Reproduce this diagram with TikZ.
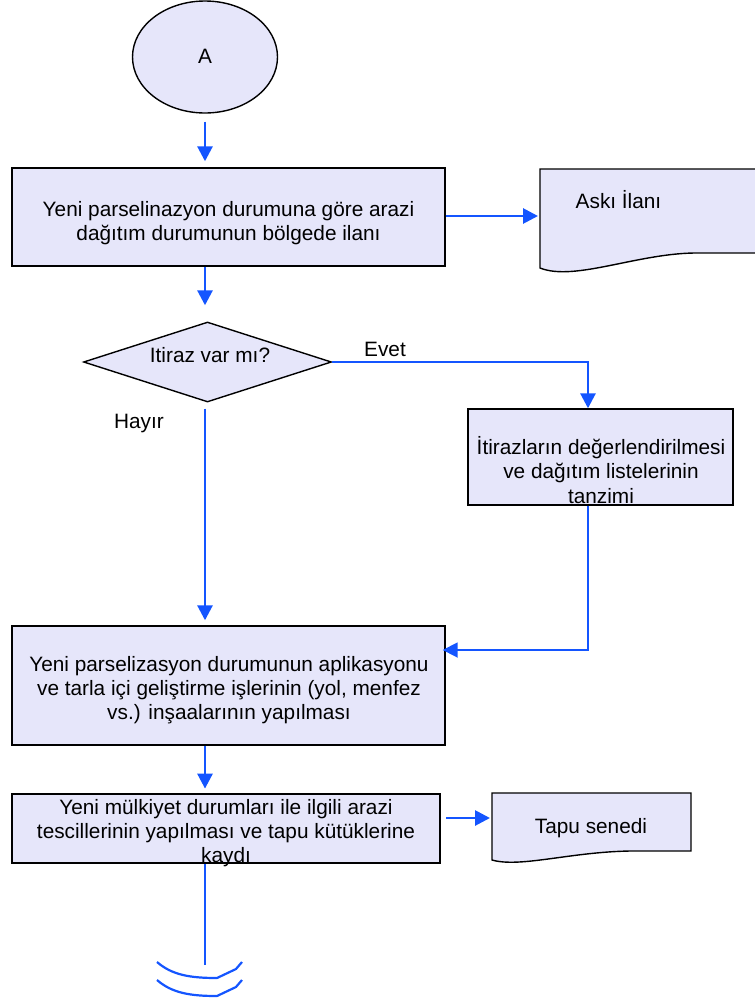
\documentclass[tikz,border=0pt]{standalone}
\usepackage{fontspec}
\setmainfont{Liberation Sans}
\usetikzlibrary{arrows.meta,shapes.geometric}
\definecolor{boxfill}{RGB}{230,230,250}
\definecolor{flowblue}{RGB}{20,85,255}
\begin{document}
\begin{tikzpicture}[x=1pt,y=-1pt,
  box/.style={draw=black, line width=1.4pt, fill=boxfill, rectangle, inner sep=0pt},
  doc/.style={draw=black, line width=1.4pt, fill=boxfill},
  lbl/.style={font=\fontsize{20.8}{24.3}\selectfont, align=center, inner sep=0pt},
  flow/.style={draw=flowblue, line width=2.8pt, -{Triangle[width=15pt,length=15pt]}},
  thinflow/.style={draw=flowblue, line width=1.8pt},
]
\useasboundingbox (0,0) rectangle (755,1002);
\clip (0,0) rectangle (755,1002);

% start terminal
\node[box, ellipse, minimum width=145pt, minimum height=112pt] (A) at (205,57) {};
\node[lbl, anchor=base] (tA) at (205,63) {A};

% box 1
\node[box, minimum width=433pt, minimum height=98pt] (b1) at (228.5,217) {};
\node[lbl] (t1) at (228.5,223) {Yeni parselinazyon durumuna göre arazi\\dağıtım durumunun bölgede ilanı};

% document 1
\path[doc] (760,169) -- (540,169) -- (540,268) .. controls (575,282) and (640,252) .. (700,253) -- (760,253) -- cycle;
\coordinate (d1w) at (540,216);
\node[lbl, anchor=base] (t2) at (618.5,208) {Askı İlanı};

% decision
\node[box, diamond, minimum width=248pt, minimum height=80pt] (dia) at (207.5,362) {};
\node[lbl, anchor=base] (tdia) at (210,362) {Itiraz var mı?};
\node[lbl, anchor=base] (tevet) at (385,356) {Evet};
\node[lbl, anchor=base] (thayir) at (139,428) {Hayır};

% box 3
\node[box, minimum width=265pt, minimum height=96pt] (b3) at (600.5,457) {};
\node[lbl] (t3) at (601,470) {İtirazların değerlendirilmesi\\ve dağıtım listelerinin\\tanzimi};

% box 4
\node[box, minimum width=433pt, minimum height=119pt] (b4) at (228.5,685.5) {};
\node[lbl] (t4) at (229,690) {Yeni parselizasyon durumunun aplikasyonu\\ve tarla içi geliştirme işlerinin (yol, menfez\\vs.) inşaalarının yapılması};

% box 5
\node[box, line width=2.8pt, minimum width=428pt, minimum height=69pt] (b5) at (226,828.5) {};
\node[lbl] (t5) at (226,833) {Yeni mülkiyet durumları ile ilgili arazi\\tescillerinin yapılması ve tapu kütüklerine\\kaydı};

% document 2
\path[doc] (691,793) -- (492,793) -- (492,860) .. controls (520,868) and (570,852) .. (630,851) -- (691,851) -- cycle;
\coordinate (d2w) at (492,818);
\node[lbl, anchor=base] (t6) at (591,833) {Tapu senedi};

% connector coordinates
\coordinate (x0) at (205,0);
\coordinate (e3) at (588,0);
\coordinate (endc) at (205,965);

% connectors
\draw[flow, shorten <=8pt, shorten >=6pt] (A.south -| x0) -- (b1.north -| x0);
\draw[flow, shorten >=2pt] (b1.east |- d1w) -- (d1w);
\draw[flow, shorten >=16pt] (b1.south -| x0) -- (dia.north -| x0);
\draw[flow] (dia.east) -| (b3.north -| e3);
\draw[flow, shorten <=6pt, shorten >=5pt] (dia.south -| x0) -- (b4.north -| x0);
\draw[flow, line width=1.8pt, shorten >=-3pt] (b3.south -| e3) |- ([yshift=35.5pt]b4.east);
\draw[flow, shorten >=4pt] (b4.south -| x0) -- (b5.north -| x0);
\draw[flow, shorten <=5pt, shorten >=2pt] (b5.east |- d2w) -- (d2w);
\draw[thinflow] (b5.south -| x0) -- (endc);

% off-page break marks
\draw[thinflow, line width=2.2pt] (157,962) .. controls (172,975) and (190,978) .. (217,978) -- (236,969) -- (242,962);
\draw[thinflow, line width=2.2pt] (157,980) .. controls (172,993) and (190,996) .. (217,996) -- (236,987) -- (242,980);
\end{tikzpicture}
\end{document}
